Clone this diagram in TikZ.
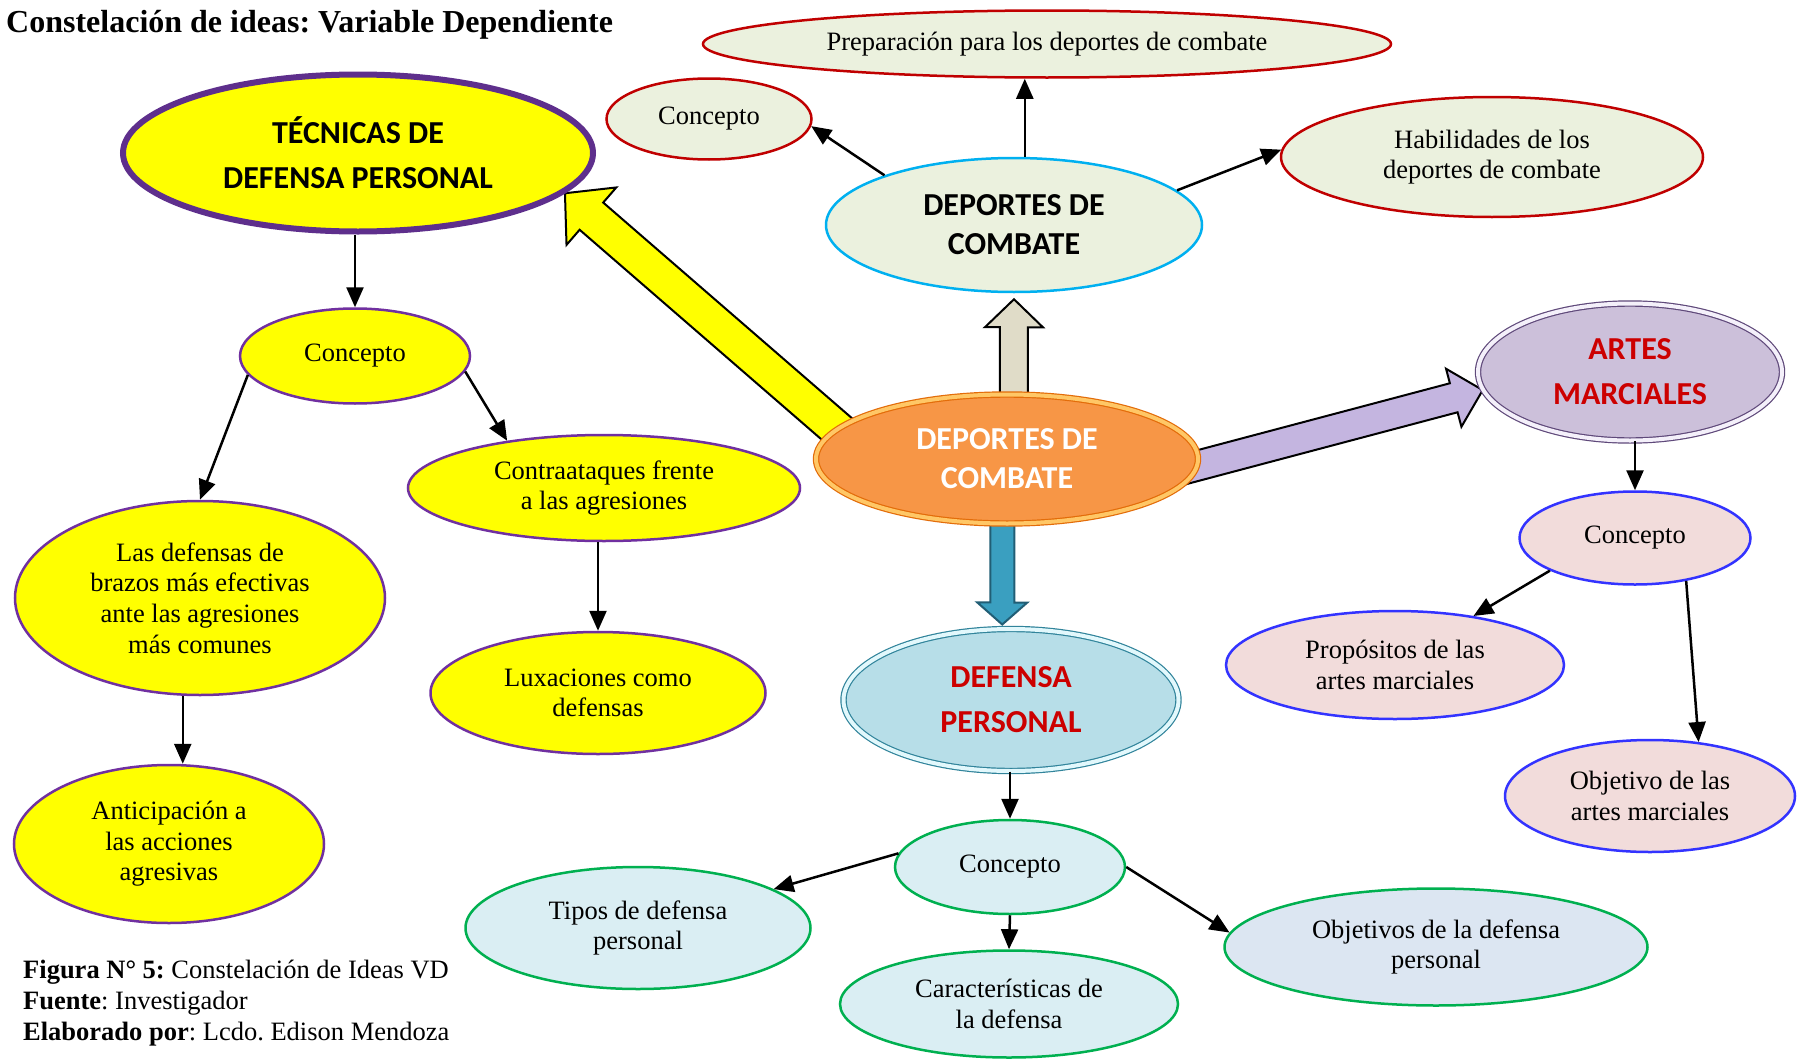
\documentclass[tikz,border=0pt]{standalone}
\usepackage{fontspec}
\setmainfont{Liberation Serif}
\newfontfamily\calfont{Carlito}
\usetikzlibrary{shapes.geometric,arrows.meta,calc,backgrounds}
\frenchspacing

\definecolor{ideapurple}{HTML}{7030A0}
\definecolor{tecpurple}{HTML}{5E2F8C}
\definecolor{ideared}{HTML}{C00000}
\definecolor{sage}{HTML}{EBF1DE}
\definecolor{cielo}{HTML}{00B0F0}
\definecolor{naranja}{HTML}{F79646}
\definecolor{naranjaosc}{HTML}{E36C09}
\definecolor{naranjaclaro}{HTML}{FFC766}
\definecolor{lila}{HTML}{CCC0DA}
\definecolor{lilaosc}{HTML}{5F497A}
\definecolor{lilaclaro}{HTML}{F4F0FA}
\definecolor{rojo}{HTML}{CC0000}
\definecolor{rosa}{HTML}{F2DCDB}
\definecolor{ideablue}{HTML}{3333FF}
\definecolor{turq}{HTML}{B7DEE8}
\definecolor{turqosc}{HTML}{31849B}
\definecolor{turqclaro}{HTML}{E2F8FC}
\definecolor{celeste}{HTML}{DAEEF3}
\definecolor{azulgris}{HTML}{DCE6F2}
\definecolor{ideagreen}{HTML}{00B050}
\definecolor{arena}{HTML}{E0DCC8}
\definecolor{lilaflecha}{HTML}{C4B5E0}
\definecolor{azulflecha}{HTML}{3A9FC0}
\definecolor{azulosc}{HTML}{215E75}
\definecolor{amarillo}{HTML}{FFFF00}

\newcommand{\bodyfont}{\fontsize{26.5}{30.6}\selectfont}
\newcommand{\capsbig}{\calfont\bfseries\fontsize{32}{45}\selectfont}
\newcommand{\capsmid}{\calfont\bfseries\fontsize{32}{39}\selectfont}

% from, to, shaft half, head half, head length, gap, style
\newcommand{\blockarrow}[7]{%
  \path ($(#1)!-30pt!(#2)$) coordinate (ba-s)
        ($(#2)!#6!(#1)$) coordinate (ba-t);
  \path ($(ba-t)!#5!(ba-s)$) coordinate (ba-h);
  \draw[#7] ($(ba-s)!#3!90:(ba-t)$) -- ($(ba-h)!#3!90:(ba-t)$)
    -- ($(ba-h)!#4!90:(ba-t)$) -- (ba-t) -- ($(ba-h)!#4!-90:(ba-t)$)
    -- ($(ba-h)!#3!-90:(ba-t)$) -- ($(ba-s)!#3!-90:(ba-t)$) -- cycle;
}

\begin{document}
\begin{tikzpicture}[x=1pt,y=-1pt,>={Triangle[length=20pt,width=17pt]}]
 \useasboundingbox (0,0) rectangle (1800,1060);
 \tikzstyle{idea} = [ellipse,draw,line width=2.5pt,inner sep=0pt,align=center,font=\bodyfont]
 \tikzstyle{yelidea} = [idea,fill=amarillo,draw=ideapurple]
 \tikzstyle{redidea} = [idea,fill=sage,draw=ideared]
 \tikzstyle{pinkidea} = [idea,fill=rosa,draw=ideablue]
 \tikzstyle{greenidea} = [idea,fill=celeste,draw=ideagreen]
 \tikzstyle{bigidea} = [ellipse,inner sep=0pt,align=center,font=\capsbig]
 \tikzstyle{link} = [->,line width=2.5pt]

 \node[anchor=west,inner sep=0pt,font=\bfseries\fontsize{32}{38}\selectfont] (titulo) at (6,25)
   {Constelación de ideas: Variable Dependiente};

 % main ideas
 \node[bigidea,fill=naranja,draw=naranjaosc,double=naranjaclaro,double distance=4pt,line width=1.2pt,
   minimum width=382pt,minimum height=129pt,text=white,font=\capsmid] (cen) at (1007,459) {DEPORTES DE\\COMBATE};
 \node[bigidea,fill=amarillo,draw=tecpurple,line width=6pt,minimum width=470pt,minimum height=157pt]
   (tec) at (358,153) {TÉCNICAS DE\\DEFENSA PERSONAL};
 \node[bigidea,fill=sage,draw=cielo,line width=2.5pt,minimum width=376pt,minimum height=134pt,font=\capsmid]
   (dct) at (1014,225) {DEPORTES DE\\COMBATE};
 \node[bigidea,fill=lila,draw=lilaosc,double=lilaclaro,double distance=4pt,line width=1.2pt,
   minimum width=304pt,minimum height=137pt,text=rojo] (art) at (1630,372) {ARTES\\MARCIALES};
 \node[bigidea,fill=turq,draw=turqosc,double=turqclaro,double distance=4pt,line width=1.2pt,
   minimum width=335pt,minimum height=142pt,text=rojo] (dp) at (1011,700) {DEFENSA\\PERSONAL};

 % left branch
 \node[yelidea,minimum width=230pt,minimum height=95pt] (cyl) at (355,356) {Concepto};
 \node[yelidea,minimum width=370pt,minimum height=194pt] (ld) at (200,598)
   {Las defensas de\\brazos más efectivas\\ante las agresiones\\más comunes};
 \node[yelidea,minimum width=392pt,minimum height=106pt] (ctr) at (604,488) {Contraataques frente\\a las agresiones};
 \node[yelidea,minimum width=335pt,minimum height=122pt] (lux) at (598,693) {Luxaciones como\\defensas};
 \node[yelidea,minimum width=310pt,minimum height=158pt] (ant) at (169,844) {Anticipación a\\las acciones\\agresivas};

 % top branch
 \node[redidea,minimum width=688pt,minimum height=67pt] (prep) at (1047,44) {Preparación para los deportes de combate};
 \node[redidea,minimum width=205pt,minimum height=81pt] (ctop) at (709,119) {Concepto};
 \node[redidea,minimum width=422pt,minimum height=120pt] (hab) at (1492,157) {Habilidades de los\\deportes de combate};

 % right branch
 \node[pinkidea,minimum width=231pt,minimum height=93pt] (cr) at (1635,538) {Concepto};
 \node[pinkidea,minimum width=338pt,minimum height=108pt] (prop) at (1395,665) {Propósitos de las\\artes marciales};
 \node[pinkidea,minimum width=290pt,minimum height=112pt] (obj) at (1650,796) {Objetivo de las\\artes marciales};

 % bottom branch
 \node[greenidea,minimum width=230pt,minimum height=94pt] (cb) at (1010,867) {Concepto};
 \node[greenidea,minimum width=345pt,minimum height=122pt] (tipos) at (638,928) {Tipos de defensa\\personal};
 \node[greenidea,minimum width=338pt,minimum height=107pt] (car) at (1009,1004) {Características de\\la defensa};
 \node[greenidea,fill=azulgris,minimum width=423pt,minimum height=117pt] (objd) at (1436,947)
   {Objetivos de la defensa\\personal};

 \node[anchor=west,inner sep=0pt,align=left,font=\bodyfont] (pie) at (23,1003)
   {\textbf{Figura N° 5:} Constelación de Ideas VD\\\textbf{Fuente}: Investigador\\\textbf{Elaborado por}: Lcdo. Edison Mendoza};

 \draw[link] (cyl.north |- tec.south) -- (cyl.north);
 \draw[link] (cyl.190) -- (ld.north);
 \draw[link] (cyl.352) -- (ctr.154);
 \draw[link] (ld.260) -- (ld.260 |- ant.north);
 \draw[link] (lux.north |- ctr.south) -- (lux.north);
 \draw[link] (dct.159) -- (ctop.356);
 \draw[link] (dct.81) -- (dct.81 |- prep.south);
 \draw[link] (dct.12) -- (hab.178);
 \draw[link] (cr.north |- art.south) -- (cr.north);
 \draw[link] (cr.201) -- (prop.32);
 \draw[link] (cr.320) -- (obj.48);
 \draw[link] (cb.north |- dp.south) -- (cb.north);
 \draw[link] (cb.173) -- (tipos.16);
 \draw[link] (cb.south) -- (car.north);
 \draw[link] (cb.east) -- (objd.176);

 \begin{pgfonlayer}{background}
  \fill[white] (0,0) rectangle (1800,1060);
  \blockarrow{cen.170}{tec.349}{18pt}{38pt}{35pt}{0pt}{fill=amarillo,draw=black,line width=2pt}
  \blockarrow{cen.84}{dct.south}{14pt}{29pt}{28pt}{6pt}{fill=arena,draw=black,line width=2pt}
  \blockarrow{cen.358}{art.187}{15pt}{30pt}{30pt}{0pt}{fill=lilaflecha,draw=black,line width=2pt}
  \blockarrow{cen.266}{dp.97}{12pt}{25pt}{22pt}{4pt}{fill=azulflecha,draw=azulosc,line width=2pt}
 \end{pgfonlayer}
\end{tikzpicture}
\end{document}
